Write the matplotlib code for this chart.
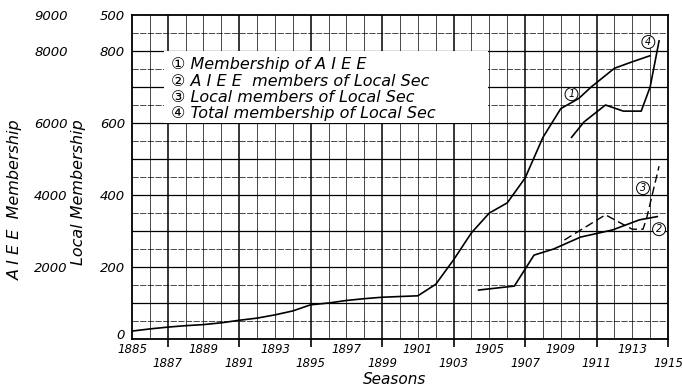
import matplotlib.pyplot as plt
from matplotlib.patches import Rectangle

plt.rcParams['font.family'] = ['DejaVu Sans', 'Noto Sans CJK JP']
plt.rcParams['font.style'] = 'italic'

# curve 1: membership of AIEE (local scale = AIEE / 10)
aiee_years = [1885, 1886, 1887, 1888, 1889, 1890, 1891, 1892, 1893, 1894,
              1895, 1896, 1897, 1898, 1899, 1900, 1901, 1902, 1903, 1904,
              1905, 1906, 1907, 1908, 1909, 1910, 1910.7, 1912, 1913, 1914]
aiee_members = [22, 28, 33, 37, 40, 45, 52, 58, 67, 78,
                95, 100, 107, 112, 116, 118, 120, 152, 220, 295,
                350, 378, 447, 560, 640, 668, 700, 752, 770, 787]

# curve 2: AIEE members of local sections
aiee_local_years = [1904.4, 1906.4, 1907.5, 1908.6, 1910.1, 1911.9, 1913.4, 1914.4]
aiee_local = [136, 147, 233, 250, 283, 303, 331, 340]

# curve 3: local members of local sections (dashed)
local_years = [1909.2, 1911.5, 1912.5, 1913.0, 1913.6, 1913.8, 1914.5]
local_members = [275, 345, 318, 305, 305, 335, 480]

# curve 4: total membership of local sections
total_years = [1909.6, 1910.3, 1911.5, 1912.5, 1913.5, 1914.0, 1914.5]
total_members = [560, 603, 650, 633, 633, 700, 828]

legend_lines = ['\u2460 Membership of A I E E',
                '\u2461 A I E E  members of Local Sec',
                '\u2462 Local members of Local Sec',
                '\u2463 Total membership of Local Sec']

fig = plt.figure(figsize=(6.82, 3.86), dpi=100)
ax = fig.add_axes([132 / 682, 1 - 339 / 386, 536 / 682, 324 / 386])
ax.set_xlim(1885, 1915)
ax.set_ylim(0, 900)

# graph paper grid
for yr in range(1886, 1915):
    lw = 1.1 if (yr - 1887) % 4 == 0 else 0.5
    ax.axvline(yr, color='black', lw=lw, zorder=1)
for v in range(50, 900, 50):
    if v % 100 == 0:
        ax.axhline(v, color='black', lw=0.9, zorder=1)
    else:
        ax.axhline(v, color='black', lw=0.5, ls=(0, (9, 2)), zorder=1)

ax.add_patch(Rectangle((1886.8, 600), 18.1, 200, facecolor='white',
                       edgecolor='none', zorder=2))
for i, line in enumerate(legend_lines):
    ax.text(0.072, 0.846 - i * 0.05, line, transform=ax.transAxes,
            fontsize=11.5, va='center', ha='left', zorder=3)

ax.plot(aiee_years, aiee_members, color='black', lw=1.2, zorder=4)
ax.plot(aiee_local_years, aiee_local, color='black', lw=1.2, zorder=4)
ax.plot(local_years, local_members, color='black', lw=1.0, ls=(0, (6, 3)), zorder=4)
ax.plot(total_years, total_members, color='black', lw=1.2, zorder=4)

circle = dict(boxstyle='circle,pad=0.15', facecolor='white', edgecolor='black', lw=0.7)
for num, x, y in [('1', 1909.6, 680), ('2', 1914.5, 305), ('3', 1913.6, 419), ('4', 1913.9, 825)]:
    ax.text(x, y, num, fontsize=7, ha='center', va='center', bbox=circle, zorder=5)

for s in ax.spines.values():
    s.set_linewidth(1.3)

# y ticks: local membership
ax.set_yticks([0, 200, 400, 600, 800, 900])
ax.set_yticklabels(['0', '200', '400', '600', '800', '500'])
ax.tick_params(axis='y', length=0, pad=5, labelsize=9.5)
ax.get_yticklabels()[0].set_verticalalignment('baseline')

# AIEE membership scale
sec = ax.secondary_yaxis(-0.12, functions=(lambda v: v * 10, lambda v: v / 10))
sec.set_yticks([2000, 4000, 6000, 8000, 9000])
sec.set_yticklabels(['2000', '4000', '6000', '8000', '9000'])
sec.tick_params(axis='y', length=0, pad=0, labelsize=9.5)
sec.spines['left'].set_visible(False)

# x ticks: staggered labels
ax.set_xticks(range(1887, 1916, 4))
ax.set_xticks(range(1885, 1915, 4), minor=True)
ax.set_xticklabels([str(y) for y in range(1887, 1916, 4)])
ax.set_xticklabels([str(y) for y in range(1885, 1915, 4)], minor=True)
ax.tick_params(axis='x', which='major', length=6, width=1.2, pad=7, labelsize=8.5)
ax.tick_params(axis='x', which='minor', length=0, pad=3, labelsize=8.5)

ax.set_xlabel('Seasons', fontsize=11, labelpad=0)
ax.xaxis.set_label_coords(0.49, -0.103)

fig.text(15 / 682, 1 - 200 / 386, 'A I E E  Membership', rotation=90,
         fontsize=11.5, ha='center', va='center')
fig.text(79 / 682, 1 - 192 / 386, 'Local Membership', rotation=90,
         fontsize=11.5, ha='center', va='center')

fig.savefig('out.png', dpi=100)
